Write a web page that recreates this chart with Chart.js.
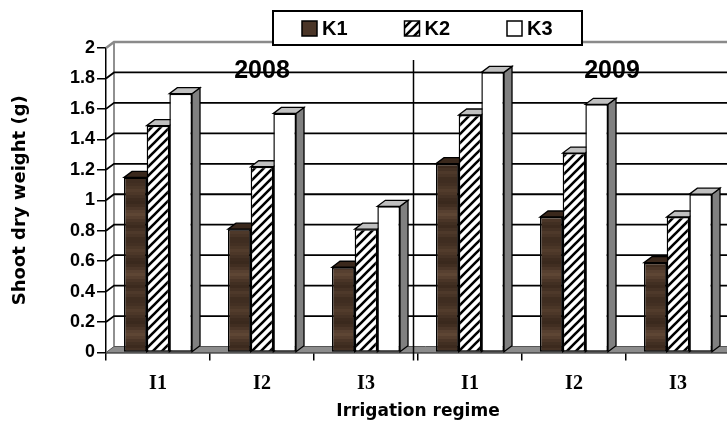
<!DOCTYPE html>
<html>
<head>
<meta charset="utf-8">
<script src="https://cdn.jsdelivr.net/npm/chart.js@4"></script>
<style>
  html, body { margin: 0; padding: 0; background: #fff; overflow: hidden; }
  canvas { display: block; }
</style>
</head>
<body>
<canvas id="grafica" width="736" height="422"></canvas>
<script>
// datos
const categorias = ['I1', 'I2', 'I3', 'I1', 'I2', 'I3'];
const anios = ['2008', '2009'];
const nombres = ['K1', 'K2', 'K3'];
const valoresK1 = [1.15, 0.81, 0.56, 1.24, 0.89, 0.59];
const valoresK2 = [1.49, 1.22, 0.81, 1.56, 1.31, 0.89];
const valoresK3 = [1.70, 1.57, 0.96, 1.84, 1.63, 1.04];

const DX = 8, DY = -6; // profundidad 3D

// textura de madera para K1
const crearMadera = () => {
    const c = document.createElement('canvas');
    const bandas = ['#3f2d21', '#433023', '#4a3627', '#523c2c', '#4c3728', '#443124', '#3d2b1f',
        '#3a291d', '#412e21', '#4b3628', '#574030', '#5e4634', '#553e2e', '#4a3527', '#412f22',
        '#3c2a1e', '#443124', '#4e392a', '#48342600'.slice(0, 7), '#3f2d20'];
    c.width = 4; c.height = bandas.length * 3;
    const g = c.getContext('2d');
    bandas.forEach((col, i) => { g.fillStyle = col; g.fillRect(0, i * 3, 4, 3); });
    return g.createPattern(c, 'repeat');
};

// rayado diagonal para K2
const crearRayado = () => {
    const c = document.createElement('canvas');
    const s = 9;
    c.width = s; c.height = s;
    const g = c.getContext('2d');
    g.fillStyle = '#fff'; g.fillRect(0, 0, s, s);
    g.strokeStyle = '#000'; g.lineWidth = 2.6;
    g.beginPath();
    g.moveTo(-1, s + 1); g.lineTo(s + 1, -1);
    g.moveTo(-2, 2); g.lineTo(2, -2);
    g.moveTo(s - 2, s + 2); g.lineTo(s + 2, s - 2);
    g.stroke();
    return g.createPattern(c, 'repeat');
};

const madera = crearMadera();
const rayado = crearRayado();
const rellenos = [madera, rayado, '#ffffff'];
const tapas = ['#3a281c', '#c0c0c0', '#c0c0c0'];

const poligono = (ctx, pts, fill, stroke, lw) => {
    ctx.beginPath();
    ctx.moveTo(pts[0][0], pts[0][1]);
    pts.slice(1).forEach(p => ctx.lineTo(p[0], p[1]));
    ctx.closePath();
    if (fill) { ctx.fillStyle = fill; ctx.fill(); }
    if (stroke) { ctx.strokeStyle = stroke; ctx.lineWidth = lw; ctx.stroke(); }
};

const fondo3d = {
    id: 'fondo3d',
    beforeDatasetsDraw(chart) {
        const { ctx, chartArea: a, scales: { x, y } } = chart;
        ctx.save();
        // pared lateral izquierda
        ctx.strokeStyle = '#909090'; ctx.lineWidth = 2;
        ctx.beginPath();
        ctx.moveTo(a.left + DX, a.top + DY); ctx.lineTo(a.left + DX, a.bottom + DY);
        ctx.stroke();
        // lineas de la pared del fondo
        y.ticks.forEach(t => {
            const py = y.getPixelForValue(t.value);
            const arriba = t.value >= y.max;
            if (t.value <= y.min) return;
            ctx.strokeStyle = arriba ? '#8a8a8a' : '#000';
            ctx.lineWidth = arriba ? 2.5 : 1.8;
            ctx.beginPath();
            ctx.moveTo(a.left, py);
            ctx.lineTo(a.left + DX, py + DY);
            ctx.lineTo(a.right + DX + 20, py + DY);
            ctx.stroke();
        });
        // piso
        poligono(ctx, [[a.left, a.bottom], [a.right + 20, a.bottom], [a.right + 20 + DX, a.bottom + DY],
            [a.left + DX, a.bottom + DY]], '#8c8c8c', '#555', 1);
        // caras superior y lateral de cada barra
        chart.data.datasets.forEach((ds, i) => {
            chart.getDatasetMeta(i).data.forEach(bar => {
                const p = bar.getProps(['x', 'y', 'base', 'width'], true);
                const l = p.x - p.width / 2, r = p.x + p.width / 2;
                poligono(ctx, [[r, p.y], [r + DX, p.y + DY], [r + DX, p.base + DY], [r, p.base]], '#808080', '#000', 1.3);
                poligono(ctx, [[l, p.y], [r, p.y], [r + DX, p.y + DY], [l + DX, p.y + DY]], tapas[i], '#000', 1.3);
            });
        });
        ctx.restore();
    },
    afterDatasetsDraw(chart) {
        const { ctx, chartArea: a, scales: { x } } = chart;
        ctx.save();
        // separador entre anios
        const sx = (x.getPixelForValue(2) + x.getPixelForValue(3)) / 2 - 4.5;
        ctx.strokeStyle = '#000'; ctx.lineWidth = 1.5;
        ctx.beginPath(); ctx.moveTo(sx, a.top + 12); ctx.lineTo(sx, a.bottom + 8); ctx.stroke();
        // etiquetas de anio
        ctx.fillStyle = '#000';
        ctx.font = 'bold 25px Arial, "Liberation Sans"';
        ctx.textAlign = 'center'; ctx.textBaseline = 'middle';
        ctx.fillText(anios[0], x.getPixelForValue(1), a.top + 23);
        ctx.fillText(anios[1], x.getPixelForValue(4) + 38, a.top + 23);
        ctx.restore();
    },
    afterDraw(chart) {
        const { ctx } = chart;
        ctx.save();
        // leyenda
        const bx = 273, by = 11, bw = 309, bh = 34;
        ctx.fillStyle = '#fff'; ctx.fillRect(bx, by, bw, bh);
        ctx.strokeStyle = '#000'; ctx.lineWidth = 2; ctx.strokeRect(bx, by, bw, bh);
        ctx.font = 'bold 20px Arial, "Liberation Sans"';
        ctx.textBaseline = 'middle'; ctx.textAlign = 'left';
        nombres.forEach((n, i) => {
            const ix = bx + 29 + i * 102.5;
            ctx.fillStyle = i === 0 ? '#4a3527' : rellenos[i];
            ctx.fillRect(ix, by + 10, 15, 15);
            ctx.strokeStyle = '#000'; ctx.lineWidth = 1.5;
            ctx.strokeRect(ix, by + 10, 15, 15);
            ctx.fillStyle = '#000';
            ctx.fillText(n, ix + 20, by + 18);
        });
        ctx.restore();
    }
};

new Chart(document.getElementById('grafica'), {
    type: 'bar',
    data: {
        labels: categorias,
        datasets: [valoresK1, valoresK2, valoresK3].map((v, i) => ({
            label: nombres[i],
            data: v,
            backgroundColor: rellenos[i],
            borderColor: '#000',
            borderWidth: 1.5,
            borderSkipped: false,
            barPercentage: 1.0,
            categoryPercentage: 0.654
        }))
    },
    options: {
        responsive: false,
        animation: false,
        layout: { padding: { top: 48, right: 6, left: 0, bottom: 0 } },
        plugins: {
            legend: { display: false },
            tooltip: { enabled: false }
        },
        scales: {
            x: {
                grid: { drawOnChartArea: false, color: '#000', tickLength: 8, lineWidth: 1.5 },
                border: { color: '#000', width: 1.5 },
                ticks: {
                    color: '#000', padding: 11,
                    font: { family: '"Times New Roman", "Liberation Serif"', size: 20, weight: 'bold' }
                },
                title: {
                    display: true, text: 'Irrigation regime', color: '#000', padding: 0,
                    font: { family: '"DejaVu Sans"', size: 17, weight: 'bold' }
                },
                afterFit: (s) => { s.height = 69.5; }
            },
            y: {
                min: 0, max: 2,
                ticks: {
                    stepSize: 0.2, color: '#000', padding: 2,
                    font: { family: 'Arial, "Liberation Sans"', size: 18, weight: 'bold' },
                    callback: (v) => String(+v.toFixed(1))
                },
                grid: { drawOnChartArea: false, color: '#000', tickLength: 9, lineWidth: 1.5 },
                border: { color: '#000', width: 1.5 },
                title: {
                    display: true, text: 'Shoot dry weight (g)', color: '#000', padding: { top: 10, bottom: 0 },
                    font: { family: '"DejaVu Sans"', size: 18, weight: 'bold' }
                },
                afterFit: (s) => { s.width = 106; }
            }
        }
    },
    plugins: [fondo3d]
});
</script>
</body>
</html>
